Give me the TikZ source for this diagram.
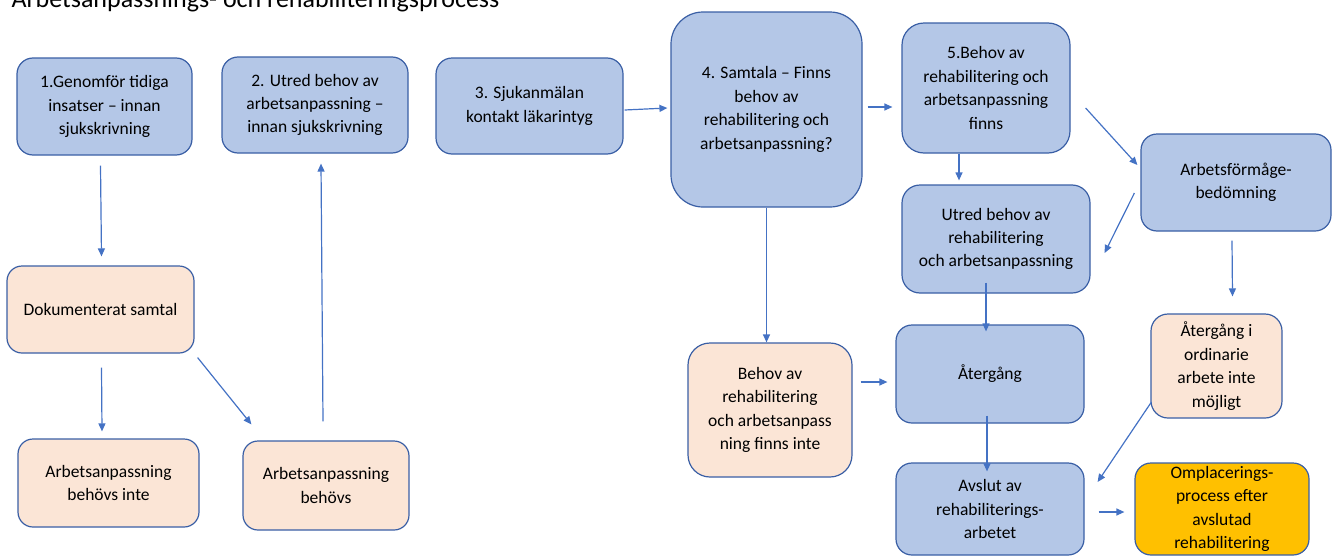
\documentclass[tikz,border=0pt]{standalone}
\usepackage{fontspec}
\setmainfont{Carlito}
\usetikzlibrary{arrows.meta}
\definecolor{boxblue}{HTML}{B4C7E7}
\definecolor{boxpeach}{HTML}{FBE5D6}
\definecolor{boxgold}{HTML}{FFC000}
\definecolor{edgeblue}{HTML}{3A5FA5}
\definecolor{arrowblue}{HTML}{4472C4}
\begin{document}
\begin{tikzpicture}[x=1pt, y=-1pt,
    box/.style={draw=edgeblue, line width=1.2pt, rectangle, align=center, inner sep=0pt,
        text=black, font=\fontsize{17.5}{23.4}\selectfont},
    bluebox/.style={box, fill=boxblue},
    peachbox/.style={box, fill=boxpeach},
    goldbox/.style={box, fill=boxgold},
    flow/.style={draw=arrowblue, line width=1.2pt, -{Triangle[length=8pt, width=7pt]}}]
    \useasboundingbox (0,0) rectangle (1336,557);
    \node[anchor=base west, font=\fontsize{26}{30}\selectfont] (title) at (8,7) {Arbetsanpassnings- och rehabiliteringsprocess};

    \node[bluebox, minimum width=175pt, minimum height=97pt, rounded corners=16pt] (g1) at (104.5,106.5) {1.Genomför tidiga\\insatser – innan\\sjukskrivning};
    \node[bluebox, minimum width=186pt, minimum height=96pt, rounded corners=16pt] (s2) at (315,105) {2. Utred behov av\\arbetsanpassning –\\innan sjukskrivning};
    \node[bluebox, minimum width=187pt, minimum height=96pt, rounded corners=16pt] (s3) at (529.5,106) {3. Sjukanmälan\\kontakt läkarintyg};
    \node[bluebox, minimum width=191pt, minimum height=195pt, rounded corners=32pt] (s4) at (766.5,109.5) {4. Samtala – Finns\\behov av\\rehabilitering och\\arbetsanpassning?};
    \node[bluebox, minimum width=168pt, minimum height=130pt, rounded corners=22pt] (s5) at (986,88) {5.Behov av\\rehabilitering och\\arbetsanpassning\\finns};
    \node[bluebox, minimum width=190pt, minimum height=97pt, rounded corners=16pt] (arb) at (1236,182.5) {Arbetsförmåge-\\bedömning};
    \node[bluebox, minimum width=188pt, minimum height=108pt, rounded corners=18pt] (utred) at (996,239) {Utred behov av\\rehabilitering\\och arbetsanpassning};

    \node[peachbox, minimum width=187pt, minimum height=87pt, rounded corners=15pt] (dok) at (100.5,309.5) {Dokumenterat samtal};
    \node[peachbox, minimum width=181pt, minimum height=88pt, rounded corners=15pt] (ej) at (108.5,483) {Arbetsanpassning\\behövs inte};
    \node[peachbox, minimum width=166pt, minimum height=89pt, rounded corners=15pt] (beh) at (326,485.5) {Arbetsanpassning\\behövs};
    \node[peachbox, minimum width=164pt, minimum height=134pt, rounded corners=22pt] (nej) at (770,410) {Behov av\\rehabilitering\\och arbetsanpass\\ning finns inte};
    \node[bluebox, minimum width=188pt, minimum height=98pt, rounded corners=16pt] (ater) at (990,374) {Återgång};
    \node[peachbox, minimum width=131pt, minimum height=104pt, rounded corners=17pt] (ord) at (1216.5,366) {Återgång i\\ordinarie\\arbete inte\\möjligt};
    \node[bluebox, minimum width=188pt, minimum height=92pt, rounded corners=16pt] (avslut) at (990,509) {Avslut av\\rehabiliterings-\\arbetet};
    \node[goldbox, minimum width=174pt, minimum height=92pt, rounded corners=16pt] (omp) at (1222,509) {Omplacerings-\\process efter\\avslutad\\rehabilitering};

    \draw[flow] ([shift={(-4,10)}]g1.south) -- ([shift={(1,-9)}]dok.north);
    \draw[flow] ([shift={(1,14)}]dok.south) -- ([shift={(-6.5,-7)}]ej.north);
    \draw[flow] ([shift={(3,4)}]dok.south east) -- ([shift={(9,-16)}]beh.north west);
    \draw[flow] ([shift={(-3,-19)}]beh.north) -- ([shift={(6,10)}]s2.south);
    \draw[flow] ([shift={(1,4)}]s3.east) -- ([shift={(-3,-1.5)}]s4.west);
    \draw[flow] ([shift={(5,-2.5)}]s4.east) -- ([shift={(-9,19)}]s5.west);
    \draw[flow] ([shift={(-27,0)}]s5.south) -- ([shift={(-37,-4)}]utred.north);
    \draw[flow] ([shift={(15,20)}]s5.east) -- ([shift={(-3,-17.5)}]arb.west);
    \draw[flow] ([shift={(-6,10.5)}]arb.west) -- ([shift={(14,14)}]utred.east);
    \draw[flow] ([shift={(-4,9)}]arb.south) -- ([shift={(16,-17)}]ord.north);
    \draw[flow] (s4.south) -- (s4.south |- nej.north);
    \draw[flow] ([shift={(8,-28)}]nej.east) -- ([shift={(-8,8)}]ater.west);
    \draw[flow] ([shift={(-10,-11)}]utred.south) -- ([shift={(-4,7)}]ater.north);
    \draw[flow] ([shift={(-3,-8)}]ater.south) -- ([shift={(-3,9)}]avslut.north);
    \draw[flow] ([shift={(1,36)}]ord.west) -- ([shift={(13,-27)}]avslut.east);
    \draw[flow] ([shift={(14,3)}]avslut.east) -- ([shift={(-10,3)}]omp.west);
\end{tikzpicture}
\end{document}
